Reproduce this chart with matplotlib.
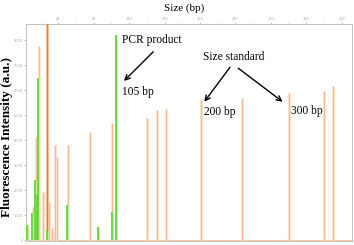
import matplotlib.pyplot as plt
from matplotlib.ticker import MultipleLocator

# size standard peaks (light orange channel)
std_bp = [5.1, 11.6, 14.4, 14.7, 18.4, 22.3, 29.4, 32.4, 36.2, 38.1, 51.2,
          75.7, 100.6, 139.8, 151.1, 161.2, 200.8, 247.1, 300.6, 340.1, 350.0]
std_height = [530, 1330, 4130, 3600, 7770, 1930, 1530, 480, 3800, 3330, 3800,
              4330, 4670, 4870, 5200, 5230, 5600, 5670, 5870, 5970, 6160]

# strong orange peak in the primer region
dark_bp = [26.8]
dark_height = [8700]

# sample channel (green)
green_bp = [4.2, 9.8, 13.6, 15.5, 17.3, 26.8, 49.4, 85.1, 100.6, 105.6]
green_height = [600, 1070, 2400, 1800, 6500, 400, 1400, 530, 1120, 8200]

serif = ["Liberation Serif", "DejaVu Serif"]

fig = plt.figure(figsize=(3.54, 2.45), dpi=100)
ax = fig.add_axes([26 / 354, 4 / 245, 326 / 354, 217 / 245])

ax.axhline(0, color="#f8c8a0", lw=0.8, zorder=1)
ax.vlines(std_bp, 0, std_height, color="#fde4d0", lw=2.2, zorder=2)
ax.vlines(std_bp, 0, std_height, color="#f8b88c", lw=0.7, zorder=3)
ax.vlines(dark_bp, 0, dark_height, color="#fbcfae", lw=2.2, zorder=2)
ax.vlines(dark_bp, 0, dark_height, color="#f07a30", lw=1.0, zorder=3)
ax.vlines(green_bp, 0, green_height, color="#c4f0b0", lw=2.0, zorder=4)
ax.vlines(green_bp, 0, green_height, color="#55d424", lw=1.1, zorder=5)

ax.set_xlim(3.4, 371.8)
ax.set_ylim(-40, 8640)

ax.xaxis.tick_top()
ax.xaxis.set_major_locator(MultipleLocator(40))
ax.xaxis.set_minor_locator(MultipleLocator(20))
ax.yaxis.set_major_locator(MultipleLocator(1000))
ax.yaxis.set_minor_locator(MultipleLocator(500))
ax.tick_params(which="both", colors="#a8a8a8", labelsize=2.5, length=1.5,
               width=0.5, pad=1)
ax.tick_params(which="minor", length=1)
for s in ax.spines.values():
    s.set_color("#b8b8b8")
    s.set_linewidth(0.6)

txt = dict(family=serif, fontsize=8.3, color="black")
ax.text(111.9, 8000, "PCR product", ha="left", va="center", **txt)
ax.text(111.5, 5930, "105 bp", ha="left", va="center", **txt)
ax.text(203.4, 7330, "Size standard", ha="left", va="center", **txt)
ax.text(204.5, 5130, "200 bp", ha="left", va="center", **txt)
ax.text(302.5, 5170, "300 bp", ha="left", va="center", **txt)

arr = dict(arrowstyle="->", color="black", lw=1.0, mutation_scale=9,
           shrinkA=0, shrinkB=0)
ax.annotate("", xy=(114.1, 6360), xytext=(147.2, 7530), arrowprops=arr)
ax.annotate("", xy=(204.9, 5530), xytext=(233.9, 6910), arrowprops=arr)
ax.annotate("", xy=(293.4, 5530), xytext=(243.3, 6870), arrowprops=arr)

fig.text(184 / 354, 1 - 8 / 245, "Size (bp)", ha="center", va="center",
         family=serif, fontsize=8)
fig.text(7.5 / 354, 1 - 137 / 245, "Fluorescence Intensity (a.u.)",
         rotation=90, ha="center", va="center", family=serif,
         fontsize=9.5, fontweight="bold")

fig.savefig("out.png", dpi=100)
